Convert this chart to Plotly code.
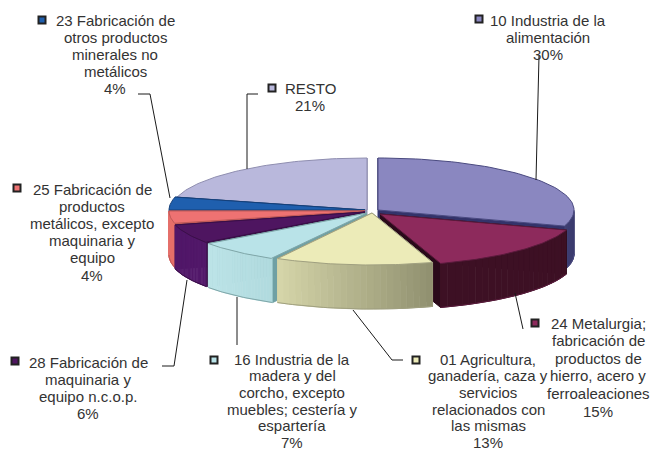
import numpy as np
import plotly.graph_objects as go

# ---- data (slices clockwise from 12 o'clock) ----
categories = ["10 Industria de la<br>alimentación", "24 Metalurgia;<br>fabricación de<br>productos de<br>hierro, acero y<br>ferroaleaciones",
              "01 Agricultura,<br>ganadería, caza y<br>servicios<br>relacionados con<br>las mismas",
              "16 Industria de la<br>madera y del<br>corcho, excepto<br>muebles; cestería y<br>espartería",
              "28 Fabricación de<br>maquinaria y<br>equipo n.c.o.p.", "25 Fabricación de<br>productos<br>metálicos, excepto<br>maquinaria y<br>equipo",
              "23 Fabricación de<br>otros productos<br>minerales no<br>metálicos", "RESTO"]
values = [30, 15, 13, 7, 6, 4, 4, 21]

# ---- styles ----
top_colors = ["#8a87c0", "#8d2a5c", "#ecebb8", "#b9e3e8", "#4e1560", "#ee7272", "#1f5fae", "#b9b8dc"]
edge_colors = ["#4a4a80", "#5a1a3c", "#a0a080", "#7fa6a8", "#3a0f48", "#c05a58", "#15407a", "#8f8eb0"]
wall_left = ["#3c3c70", "#3d1024", "#d6d6aa", "#bde4e8", "#52186a", "#e6706a", "#1f5fae", "#b9b8dc"]
wall_right = ["#3c3c70", "#3d1024", "#90906f", "#b0dade", "#52186a", "#e6706a", "#1f5fae", "#b9b8dc"]
face_colors = ["#33336a", "#2a0a1a", "#a0a080", "#6fa0a4", "#3a0f48", "#c05a58", "#15407a", "#8f8eb0"]
apex_x = [378, 380, 372, 367, 365, 365, 365, 367]
apex_y = [210, 214, 213, 213, 212, 211, 210, 210]
RX, RY, DEPTH = 196, 52, 44
line_h = [17.2, 17.6, 16.7, 16.7, 17.2, 17.2, 17.2, 17.2]
draw_order = [7, 6, 0, 1, 5, 4, 3, 2]
key_pos = [(479, 19), (535, 323), (416, 360), (214, 360), (15, 361), (17, 188), (42, 20), (272, 88)]
text_pos = [(548, 20), (598, 323), (488, 359), (292, 359), (88, 362), (92, 189), (115, 20), (310, 88)]
leaders = [[(539, 56), (536, 180)], [(515, 293), (523, 329)], [(353, 310), (392, 360), (403, 360)],
           [(237, 297), (237, 345)], [(187, 280), (174, 366), (162, 366)], None,
           [(138, 94), (150, 94), (170, 198)], [(258, 94), (247, 94), (247, 169)]]
TEXT = "#333333"

edges = np.concatenate([[0], np.cumsum(values)]) / sum(values) * 360.0
fig = go.Figure()


def poly(xs, ys, fill, line=None, width=1):
    fig.add_trace(go.Scatter(x=list(xs), y=list(ys), mode="lines", fill="toself", fillcolor=fill,
                             line=dict(color=line or fill, width=width), hoverinfo="skip", showlegend=False))


def lerp(a, b, t):
    ca = [int(a[i:i + 2], 16) for i in (1, 3, 5)]
    cb = [int(b[i:i + 2], 16) for i in (1, 3, 5)]
    return "#%02x%02x%02x" % tuple(int(round(p + (q - p) * t)) for p, q in zip(ca, cb))


for i in draw_order:
    a0, a1, cx, cy = edges[i], edges[i + 1], apex_x[i], apex_y[i]
    px = lambda d: cx + RX * np.sin(np.radians(d))
    py = lambda d: cy - RY * np.cos(np.radians(d))
    # cut faces
    for a in (a0, a1):
        poly([cx, px(a), px(a), cx], [cy, py(a), py(a) + DEPTH, cy + DEPTH], face_colors[i])
    # outer wall (front half only), shaded from left to right
    w0, w1 = max(a0, 90), min(a1, 270)
    if w1 > w0:
        steps = 24
        ang = np.linspace(w0, w1, steps + 1)
        for k in range(steps):
            t = 1 - (k + 0.5) / steps
            seg = [ang[k], ang[k + 1]]
            poly([px(seg[0]), px(seg[1]), px(seg[1]), px(seg[0])],
                 [py(seg[0]), py(seg[1]), py(seg[1]) + DEPTH, py(seg[0]) + DEPTH],
                 lerp(wall_left[i], wall_right[i], t))
        fine = np.linspace(w0, w1, 40)
        fig.add_trace(go.Scatter(x=list(px(fine)), y=list(py(fine) + DEPTH), mode="lines",
                                 line=dict(color=edge_colors[i], width=1), hoverinfo="skip", showlegend=False))
    # top face
    arc = np.linspace(a0, a1, 60)
    poly([cx, *px(arc), cx], [cy, *py(arc), cy], top_colors[i], edge_colors[i], 1)

# leader lines
for pts in leaders:
    if pts:
        fig.add_trace(go.Scatter(x=[p[0] for p in pts], y=[p[1] for p in pts], mode="lines",
                                 line=dict(color="#1a1a1a", width=1), hoverinfo="skip", showlegend=False))

# legend keys and labels
fig.add_trace(go.Scatter(x=[p[0] for p in key_pos], y=[p[1] for p in key_pos], mode="markers",
                         marker=dict(symbol="square", size=7, color=top_colors, line=dict(color="#222222", width=2)),
                         hoverinfo="skip", showlegend=False))
for name, val, (tx, ty), lh in zip(categories, values, text_pos, line_h):
    for k, line in enumerate(name.split("<br>") + [f"{val}%"]):
        fig.add_annotation(x=tx, y=ty + k * lh, xref="x", yref="y", text=line, showarrow=False,
                           xanchor="center", yanchor="middle", align="center",
                           font=dict(family="Liberation Sans", size=15, color=TEXT))

fig.update_layout(width=652, height=452, margin=dict(l=0, r=0, t=0, b=0), paper_bgcolor="white",
                  plot_bgcolor="white", showlegend=False,
                  xaxis=dict(range=[0, 652], visible=False, fixedrange=True),
                  yaxis=dict(range=[452, 0], visible=False, fixedrange=True))
fig.write_html("out.html", config={"displayModeBar": False},
               post_script="document.body.style.margin='0';document.documentElement.style.overflow='hidden';")
